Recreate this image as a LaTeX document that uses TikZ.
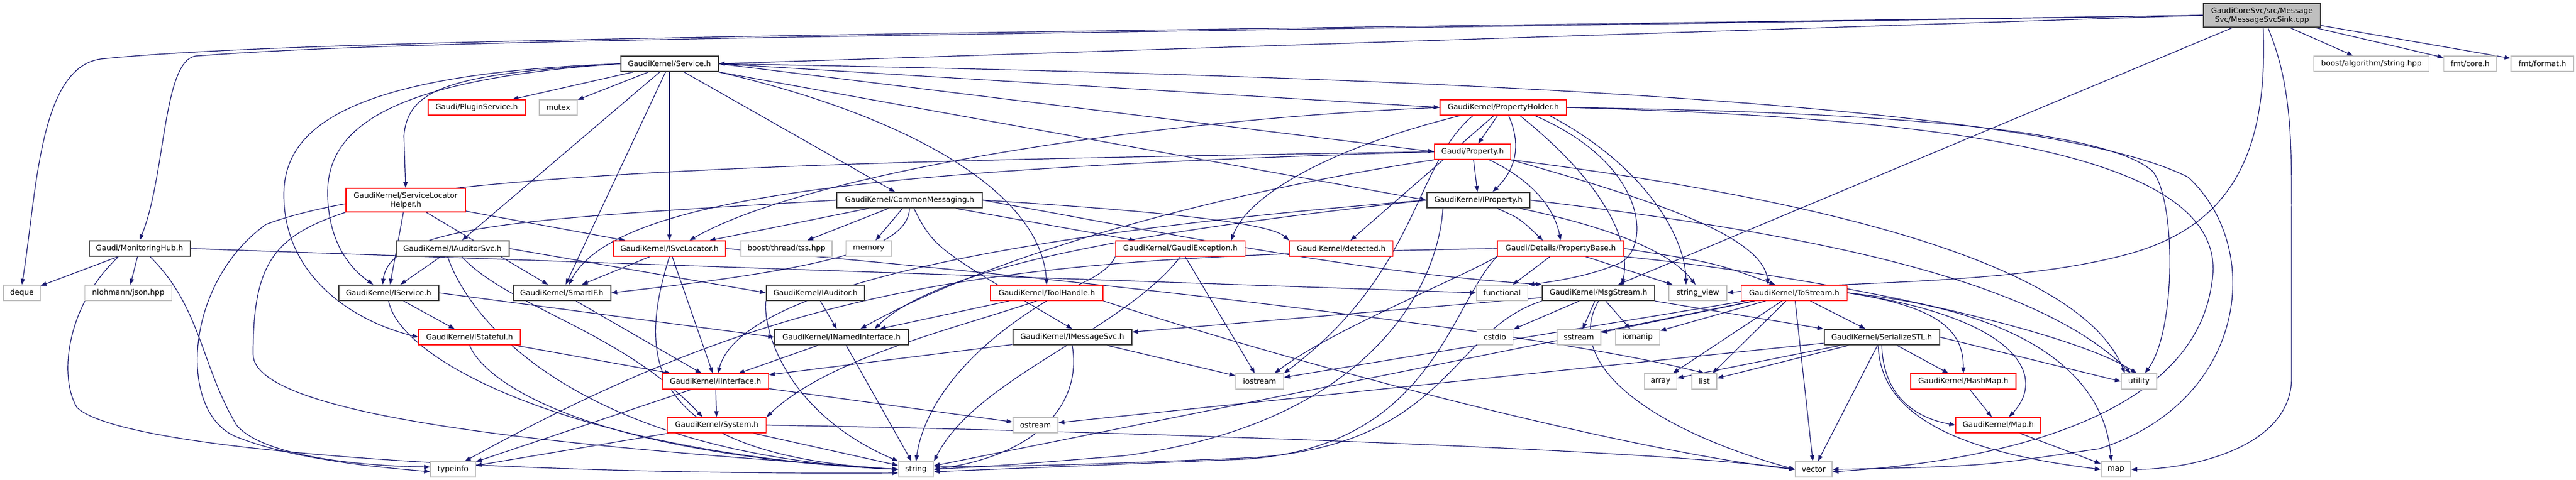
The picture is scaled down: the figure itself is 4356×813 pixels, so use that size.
\documentclass[tikz,border=0pt]{standalone}
\usepackage{fontspec}
\usetikzlibrary{arrows.meta}
\newfontfamily\dxfam{DejaVu Sans}
\newcommand\dxfont{\dxfam\fontsize{6.35pt}{7.5pt}\selectfont}
\definecolor{edgec}{HTML}{191970}
\definecolor{graybd}{HTML}{BFBFBF}
\definecolor{blkbd}{HTML}{404040}
\definecolor{redbd}{HTML}{FF0000}
\pgfdeclarelayer{bg}
\pgfsetlayers{bg,main}
\tikzset{
 nd/.style={draw, rectangle, inner sep=0pt, minimum height=13pt, font=\dxfont, fill=white, text=black},
 blk/.style={nd, draw=blkbd, line width=1pt},
 redn/.style={nd, draw=redbd, line width=0.7pt},
 gry/.style={nd, draw=graybd, line width=0.8pt},
 rootn/.style={nd, fill=graybd, draw=blkbd, line width=1pt, minimum height=20pt, align=center},
 wd/.style={minimum width=#1*0.5pt},
 e/.style={draw=edgec, line width=0.6pt, -{Triangle[length=5pt,width=3.6pt]}},
}
\begin{document}
\begin{tikzpicture}[x=0.5pt,y=-0.5pt]
\useasboundingbox (0,0) rectangle (4356,813);
% ---- nodes ----
\node[rootn,wd=198] (root) at (3825,26) {GaudiCoreSvc/src/Message\\Svc/MessageSvcSink.cpp};
\node[blk,wd=165] (svc) at (1132,108) {GaudiKernel/Service.h};
\node[gry,wd=195] (balg) at (4010,108) {boost/algorithm/string.hpp};
\node[gry,wd=89] (fcore) at (4177,108) {fmt/core.h};
\node[gry,wd=106] (ffmt) at (4299,108) {fmt/format.h};
\node[redn,wd=164] (plug) at (806,182) {Gaudi/PluginService.h};
\node[gry,wd=64] (mutex) at (944,182) {mutex};
\node[redn,wd=214] (ph) at (2542,182) {GaudiKernel/PropertyHolder.h};
\node[redn,wd=129] (prop) at (2490,257) {Gaudi/Property.h};
\node[redn,wd=202,minimum height=20pt,align=center] (slh) at (686,339) {GaudiKernel/ServiceLocator\\Helper.h};
\node[blk,wd=246] (cm) at (1538,339) {GaudiKernel/CommonMessaging.h};
\node[blk,wd=174] (iprop) at (2500,339) {GaudiKernel/IProperty.h};
\node[blk,wd=171] (mh) at (236,421) {Gaudi/MonitoringHub.h};
\node[blk,wd=191] (iaud) at (765,421) {GaudiKernel/IAuditorSvc.h};
\node[redn,wd=190] (isl) at (1132,421) {GaudiKernel/ISvcLocator.h};
\node[gry,wd=154] (tss) at (1330,421) {boost/thread/tss.hpp};
\node[gry,wd=77] (mem) at (1469,421) {memory};
\node[redn,wd=219] (gex) at (1996,421) {GaudiKernel/GaudiException.h};
\node[redn,wd=175] (det) at (2268,421) {GaudiKernel/detected.h};
\node[redn,wd=214] (pb) at (2639,421) {Gaudi/Details/PropertyBase.h};
\node[gry,wd=62] (deque) at (37,496) {deque};
\node[gry,wd=147] (json) at (217,496) {nlohmann/json.hpp};
\node[blk,wd=169] (isvc) at (657,496) {GaudiKernel/IService.h};
\node[blk,wd=165] (smart) at (950,496) {GaudiKernel/SmartIF.h};
\node[blk,wd=166] (iaudr) at (1379,496) {GaudiKernel/IAuditor.h};
\node[redn,wd=190] (tool) at (1770,496) {GaudiKernel/ToolHandle.h};
\node[gry,wd=87] (func) at (2540,496) {functional};
\node[blk,wd=190] (msg) at (2703,496) {GaudiKernel/MsgStream.h};
\node[gry,wd=98] (sv) at (2871,496) {string\_view};
\node[redn,wd=179] (tos) at (3034,496) {GaudiKernel/ToStream.h};
\node[redn,wd=172] (istate) at (794,571) {GaudiKernel/IStateful.h};
\node[blk,wd=226] (inamed) at (1423,571) {GaudiKernel/INamedInterface.h};
\node[blk,wd=201] (imsg) at (1813,571) {GaudiKernel/IMessageSvc.h};
\node[gry,wd=61] (cstdio) at (2528,571) {cstdio};
\node[gry,wd=74] (sstream) at (2670,571) {sstream};
\node[gry,wd=75] (iomanip) at (2769,571) {iomanip};
\node[blk,wd=195] (ser) at (3182,571) {GaudiKernel/SerializeSTL.h};
\node[redn,wd=179] (iif) at (1210,646) {GaudiKernel/IInterface.h};
\node[gry,wd=81] (iostream) at (2130,646) {iostream};
\node[gry,wd=55] (array) at (2808,646) {array};
\node[gry,wd=42] (list) at (2882,646) {list};
\node[redn,wd=178] (hash) at (3320,646) {GaudiKernel/HashMap.h};
\node[gry,wd=60] (util) at (3617,646) {utility};
\node[redn,wd=167] (sys) at (1212,720) {GaudiKernel/System.h};
\node[gry,wd=76] (ostream) at (1751,720) {ostream};
\node[redn,wd=144] (maph) at (3379,720) {GaudiKernel/Map.h};
\node[gry,wd=76] (typeinfo) at (766,795) {typeinfo};
\node[gry,wd=59] (string) at (1549,795) {string};
\node[gry,wd=62] (vector) at (3067,795) {vector};
\node[gry,wd=50] (map) at (3578,795) {map};
% ---- edges ----
\begin{pgfonlayer}{bg}
\fill[white] (0,0) rectangle (4356,813);
% root
\draw[e] (root.west) -- (svc.east);
\draw[e] (root) -- (balg);
\draw[e] (root) -- (fcore);
\draw[e] (root) -- (ffmt);
\draw[e] (root) -- (msg);
\draw[e] (root.west) .. controls (1500,62) and (700,66) .. (330,95) .. controls (275,105) and (280,300) .. (mh.north);
\draw[e] (root.west) .. controls (1500,58) and (500,66) .. (170,100) .. controls (65,115) and (62,330) .. (deque.north);
\draw[e] ([xshift=5pt]root.south) .. controls (3878,150) and (3875,250) .. (3875,400) -- (3875,640) .. controls (3875,760) and (3700,795) .. (map.east);
\draw[e] ([xshift=1pt]root.south) .. controls (3835,250) and (3780,380) .. (3600,430) .. controls (3400,485) and (3100,475) .. (sv.east);
% Service.h
\draw[e] (svc) -- (plug);
\draw[e] (svc) -- (mutex);
\draw[e] (svc.east) -- (ph.west);
\draw[e] (svc.east) -- (prop.west);
\draw[e] (svc.south east) -- (iprop.west);
\draw[e] (svc) -- (cm);
\draw[e] (svc) -- (iaud);
\draw[e] (svc) -- (isl);
\draw[e] (svc) -- (smart);
\draw[e] (svc.south east) .. controls (1550,200) and (1760,330) .. (tool.north);
\draw[e] (svc.west) .. controls (760,125) and (690,150) .. (683,230) -- (slh.north);
\draw[e] (svc.west) .. controls (650,135) and (552,220) .. (554,330) .. controls (556,420) and (600,460) .. ([xshift=-13pt]isvc.north);
\draw[e] (svc.west) .. controls (580,125) and (480,220) .. (480,330) .. controls (480,470) and (600,545) .. (istate.west);
\draw[e] (svc.east) .. controls (2800,135) and (3500,200) .. (3700,300) .. controls (3830,420) and (3800,680) .. (3550,760) .. controls (3350,790) .. (vector.east);
% PropertyHolder.h
\draw[e] (ph) -- (prop);
\draw[e] ([xshift=4.5pt]ph.south) .. controls (2575,250) and (2560,290) .. ([xshift=12pt]iprop.north);
\draw[e] (ph.west) .. controls (1900,205) and (1350,300) .. ([xshift=17pt]isl.north);
\draw[e] ([xshift=-36pt]ph.south) .. controls (2250,250) and (2110,330) .. ([xshift=43pt]gex.north);
\draw[e] ([xshift=-25.5pt]ph.south) .. controls (2390,280) and (2400,460) .. (iostream.north east);
\draw[e] (ph) -- (det);
\draw[e] ([xshift=14pt]ph.south) .. controls (2700,300) and (2760,400) .. ([xshift=20pt]msg.north);
\draw[e] ([xshift=26.5pt]ph.south) .. controls (2790,280) and (2790,420) .. (2740,445) .. controls (2690,468) and (2620,478) .. (func.north east);
\draw[e] ([xshift=39pt]ph.south) .. controls (2780,280) and (2850,400) .. ([xshift=-10pt]sv.north);
\draw[e] (ph.east) .. controls (3200,190) and (3560,220) .. (3640,290) .. controls (3680,340) and (3680,560) .. ([xshift=5pt]util.north);
\draw[e] (ph.east) .. controls (3300,200) and (3780,260) .. (3740,480) .. controls (3710,700) and (3400,780) .. ([yshift=-2pt]vector.east);
% Gaudi/Property.h
\draw[e] (prop) -- (iprop);
\draw[e] (prop) .. controls (2600,310) and (2630,360) .. (pb.north);
\draw[e] (prop.south east) .. controls (2800,340) and (2980,400) .. ([xshift=-22pt]tos.north);
\draw[e] (prop.south east) .. controls (3100,340) and (3520,450) .. ([xshift=-12pt]util.north);
\draw[e] (prop.west) .. controls (1500,285) and (1040,330) .. ([xshift=6pt]smart.north);
\draw[e] (prop.west) .. controls (1500,272) and (700,285) .. (450,380) .. controls (310,480) and (300,700) .. (400,740) .. controls (500,780) and (650,792) .. ([yshift=-2pt]typeinfo.west);
\draw[e] (prop.south west) .. controls (2100,320) and (1700,420) .. ([xshift=16pt]inamed.north);
% IProperty.h
\draw[e] (iprop.west) .. controls (1900,380) and (1260,460) .. ([xshift=2pt]iif.north);
\draw[e] (iprop) .. controls (2570,370) .. ([xshift=-15pt]pb.north);
\draw[e] ([xshift=-30pt]iprop.south) .. controls (2430,500) and (2300,720) .. (1900,772) .. controls (1700,788) .. (string.east);
\draw[e] ([xshift=35pt]iprop.south) .. controls (2700,380) and (2820,420) .. ([xshift=-2pt]sv.north);
\draw[e] (iprop.east) .. controls (3100,400) and (3450,480) .. ([xshift=-7pt]util.north);
\draw[e] (iprop.west) .. controls (2000,385) and (1600,440) .. ([xshift=28pt]inamed.north);
% PropertyBase.h
\draw[e] (pb) -- (func);
\draw[e] (pb) -- (sv);
\draw[e] (pb.east) .. controls (2900,445) .. ([xshift=-16pt]tos.north);
\draw[e] (pb.south west) .. controls (2450,520) and (2420,760) .. (2100,778) .. controls (1800,790) .. ([yshift=-2pt]string.east);
\draw[e] (pb.south west) .. controls (2450,480) and (2250,560) .. ([xshift=-8pt]iostream.north east);
\draw[e] (pb.west) .. controls (1700,435) and (1350,470) .. ([xshift=10pt]typeinfo.north);
\draw[e] (pb.south east) .. controls (3100,470) and (3500,560) .. ([xshift=-2pt]util.north);
% CommonMessaging.h
\draw[e] (cm.west) .. controls (900,370) and (660,380) .. ([xshift=-5pt]isvc.north);
\draw[e] (cm) -- (isl);
\draw[e] (cm.south) .. controls (1535,420) and (1400,455) .. (smart.east);
\draw[e] (cm) -- (tss);
\draw[e] (cm) -- (mem);
\draw[e] (cm) .. controls (1580,420) .. (imsg.north);
\draw[e] (cm) -- (gex);
\draw[e] (cm.east) .. controls (2000,360) and (2150,380) .. (det.north west);
\draw[e] (cm.east) .. controls (2000,400) and (2300,462) .. (msg.north west);
% ServiceLocatorHelper.h
\draw[e] (slh) -- (isl);
\draw[e] (slh) -- (smart);
\draw[e] (slh) -- (isvc);
\draw[e] (slh.south west) .. controls (460,400) and (428,450) .. (428,600) .. controls (428,720) and (1100,765) .. (string.west);
% MonitoringHub.h
\draw[e] (mh) -- (deque);
\draw[e] (mh) -- (json);
\draw[e] (mh.east) -- (func.west);
\draw[e] ([xshift=-18pt]mh.south) .. controls (110,520) and (100,640) .. (130,690) .. controls (200,760) and (800,805) .. ([yshift=-3pt]string.west);
\draw[e] ([xshift=9pt]mh.south) .. controls (340,520) and (340,620) .. (400,720) .. controls (450,780) and (650,790) .. ([yshift=2pt]typeinfo.west);
% IAuditorSvc.h
\draw[e] (iaud) -- (isvc);
\draw[e] (iaud.east) -- (iaudr.west);
\draw[e] ([xshift=8pt]iaud.south) .. controls (860,520) and (1050,560) .. ([xshift=-12pt]sys.north);
\draw[e] ([xshift=-4pt]iaud.south) .. controls (800,560) and (1000,770) .. (string.west);
% IService.h
\draw[e] (isvc) -- (istate);
\draw[e] (isvc.east) -- (inamed.west);
\draw[e] (isvc.south) .. controls (680,620) and (1000,770) .. (string.west);
% ISvcLocator.h
\draw[e] (isl) -- (smart);
\draw[e] (isl) -- (iif);
\draw[e] (isl.south) .. controls (1080,600) and (1080,770) .. (string.west);
\draw[e] (isl.east) .. controls (1800,470) and (2600,560) .. (list.north);
% misc interfaces
\draw[e] (smart) -- (iif);
\draw[e] (iaudr) -- (inamed);
\draw[e] (iaudr.south west) .. controls (1290,560) and (1330,700) .. (string.north west);
\draw[e] (inamed) -- (iif);
\draw[e] (inamed) -- (string);
\draw[e] (istate) -- (iif);
\draw[e] (istate.south) .. controls (820,650) and (1000,770) .. (string.west);
\draw[e] (tool) -- (inamed);
\draw[e] (tool.south) .. controls (1620,600) and (1560,700) .. (string.north);
\draw[e] (tool.south east) .. controls (2300,650) and (2800,770) .. (vector.west);
\draw[e] (gex.south) .. controls (1900,560) and (1650,640) .. (string.north east);
\draw[e] (gex) -- (iostream);
\draw[e] (gex.south west) .. controls (1850,520) and (1450,560) .. (sys.north east);
\draw[e] (imsg) -- (iif);
\draw[e] (imsg) -- (iostream);
\draw[e] (imsg.south) .. controls (1830,680) and (1760,770) .. (string.east);
\draw[e] (iif) -- (sys);
\draw[e] (iif) -- (typeinfo);
\draw[e] (iif) -- (ostream);
\draw[e] (sys) -- (typeinfo);
\draw[e] (sys) -- (string);
\draw[e] (sys.east) .. controls (1800,728) and (2800,760) .. (vector.west);
% MsgStream.h
\draw[e] (msg) -- (imsg);
\draw[e] (msg.south west) .. controls (2450,560) and (2450,760) .. (2100,776) .. controls (1800,788) .. ([yshift=2pt]string.east);
\draw[e] (msg) -- (cstdio);
\draw[e] (msg) -- (sstream);
\draw[e] (msg) -- (iomanip);
\draw[e] (msg.south) .. controls (2640,620) and (2800,730) .. (vector.west);
\draw[e] (msg.south east) -- (ser.north west);
% ToStream.h
\draw[e] (tos.east) .. controls (3280,520) and (3320,560) .. (hash.north);
\draw[e] (tos.east) .. controls (3420,540) and (3460,640) .. ([xshift=9pt]maph.north);
\draw[e] (tos.east) .. controls (3450,530) and (3560,650) .. ([xshift=-4pt]map.north);
\draw[e] (tos) -- (ser);
\draw[e] (tos) -- (list);
\draw[e] (tos) -- (vector);
\draw[e] (tos) -- (array);
\draw[e] (tos) -- (iostream);
\draw[e] (tos) -- (sstream);
\draw[e] (tos) -- (iomanip);
\draw[e] (tos) -- (string);
% SerializeSTL.h
\draw[e] (ser) -- (array);
\draw[e] (ser) -- (list);
\draw[e] (ser) -- (ostream);
\draw[e] (ser) -- (vector);
\draw[e] (ser) -- (hash);
\draw[e] (ser.south) .. controls (3185,680) and (3250,710) .. (maph.west);
\draw[e] ([xshift=-3pt]ser.south) .. controls (3180,720) and (3350,770) .. (map.west);
\draw[e] (ser.east) -- (util.west);
\draw[e] (hash) -- (maph);
\draw[e] (maph) -- (map);
\end{pgfonlayer}
\end{tikzpicture}
\end{document}
